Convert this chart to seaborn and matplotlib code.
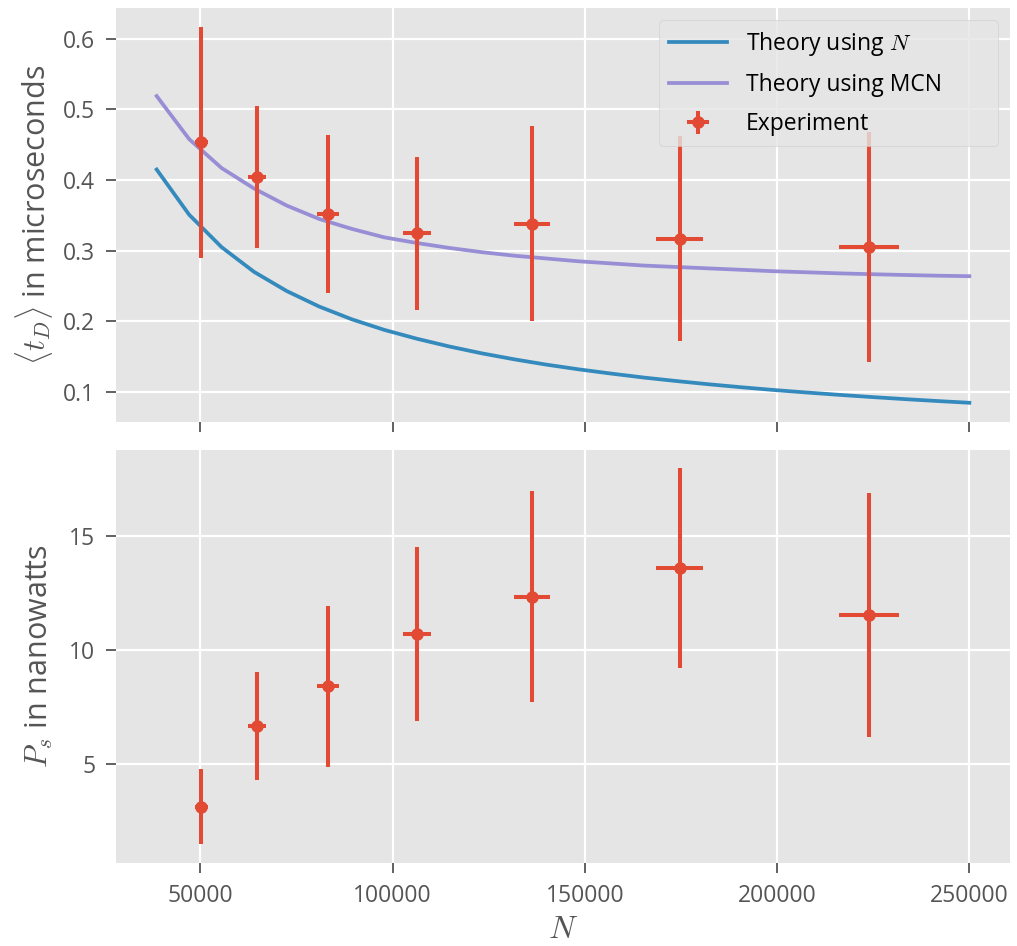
import numpy as np
import pandas as pd
import matplotlib
matplotlib.use("Agg")
import matplotlib.pyplot as plt
import seaborn as sns

# ---- data ----
theory_N = [38600, 47056, 55512, 63968, 72424, 80880, 89336, 97792, 106248,
            114704, 123160, 131616, 140072, 148528, 156984, 165440, 173896,
            182352, 190808, 199264, 207720, 216176, 224632, 233088, 241544, 250000]
theory_using_N = [0.415, 0.351, 0.305, 0.270, 0.243, 0.221, 0.203, 0.188, 0.1755,
                  0.1645, 0.1548, 0.1463, 0.1387, 0.1320, 0.1260, 0.1204, 0.1155,
                  0.1109, 0.1067, 0.1028, 0.0993, 0.0960, 0.0929, 0.0900, 0.0873, 0.0848]
theory_using_MCN = [0.519, 0.458, 0.417, 0.388, 0.364, 0.345, 0.331, 0.319, 0.311,
                    0.304, 0.298, 0.293, 0.289, 0.285, 0.282, 0.279, 0.277,
                    0.275, 0.273, 0.271, 0.2695, 0.268, 0.2668, 0.2657, 0.2647, 0.264]

exp_N = [50260, 64690, 83080, 106290, 136270, 174610, 223830]
exp_N_err = [1780, 2270, 2900, 3720, 4770, 6110, 7840]
exp_tD = [0.4535, 0.4042, 0.3521, 0.3248, 0.3385, 0.3173, 0.3056]
exp_tD_err = [0.1635, 0.1002, 0.1115, 0.1085, 0.1385, 0.1455, 0.1627]
exp_Ps = [3.13, 6.68, 8.40, 10.70, 12.33, 13.59, 11.52]
exp_Ps_err = [1.645, 2.37, 3.52, 3.82, 4.63, 4.37, 5.35]

# ---- style ----
plt.style.use("ggplot")
sns.set_style({"axes.facecolor": "#E5E5E5", "grid.color": "white"})
plt.rcParams["font.family"] = ["Open Sans", "DejaVu Sans"]
plt.rcParams["mathtext.fontset"] = "cm"
plt.rcParams["xtick.direction"] = "out"
plt.rcParams["ytick.direction"] = "out"

RED = "#E24A33"
BLUE = "#348ABD"
PURPLE = "#988ED5"
TICK = 16.5
LABEL = 22

fig, (ax1, ax2) = plt.subplots(2, 1, sharex=True, figsize=(10.17, 9.46), dpi=100)
fig.subplots_adjust(left=0.1141, right=0.9931, top=0.9915, bottom=0.0877, hspace=0.0676)

df = pd.DataFrame({"N": theory_N, "a": theory_using_N, "b": theory_using_MCN})
sns.lineplot(data=df, x="N", y="a", ax=ax1, color=BLUE, linewidth=2.7,
             label=r"Theory using $N$")
sns.lineplot(data=df, x="N", y="b", ax=ax1, color=PURPLE, linewidth=2.7,
             label="Theory using MCN")
ax1.errorbar(exp_N, exp_tD, xerr=exp_N_err, yerr=exp_tD_err, fmt="o", color=RED,
             markersize=8, elinewidth=2.9, capsize=0, label="Experiment")

ax2.errorbar(exp_N, exp_Ps, xerr=exp_N_err, yerr=exp_Ps_err, fmt="o", color=RED,
             markersize=8, elinewidth=2.9, capsize=0)

for ax in (ax1, ax2):
    ax.grid(True, color="white", linewidth=1.6)
    ax.set_axisbelow(True)
    ax.tick_params(axis="both", colors="#555555", labelsize=TICK, length=7, width=1.3,
                   direction="out", pad=8)
    for s in ax.spines.values():
        s.set_visible(False)

ax1.set_yticks([0.1, 0.2, 0.3, 0.4, 0.5, 0.6])
ax1.set_ylabel(r"$\langle t_D\rangle$ in microseconds", fontsize=LABEL, color="#555555",
               labelpad=6)
ax1.set_xlabel("")
ax2.set_yticks([5, 10, 15])
ax2.set_ylabel(r"$P_s$ in nanowatts", fontsize=LABEL, color="#555555", labelpad=6)
ax2.set_xticks([50000, 100000, 150000, 200000, 250000])
ax2.set_xticklabels(["50000", "100000", "150000", "200000", "250000"])
ax2.set_xlabel(r"$N$", fontsize=LABEL + 1, color="#555555", labelpad=4)

leg = ax1.legend(loc="upper left", bbox_to_anchor=(0.6074, 0.971, 0.3792, 0.0),
                 mode="expand", borderaxespad=0.0,
                 fontsize=TICK, frameon=True, facecolor="#E5E5E5",
                 edgecolor="#CCCCCC", framealpha=0.8, handlelength=2.5,
                 borderpad=0.45, labelspacing=0.65, handletextpad=0.85)
for t in leg.get_texts():
    t.set_color("black")

fig.align_ylabels([ax1, ax2])
fig.savefig("out.png", dpi=100)
